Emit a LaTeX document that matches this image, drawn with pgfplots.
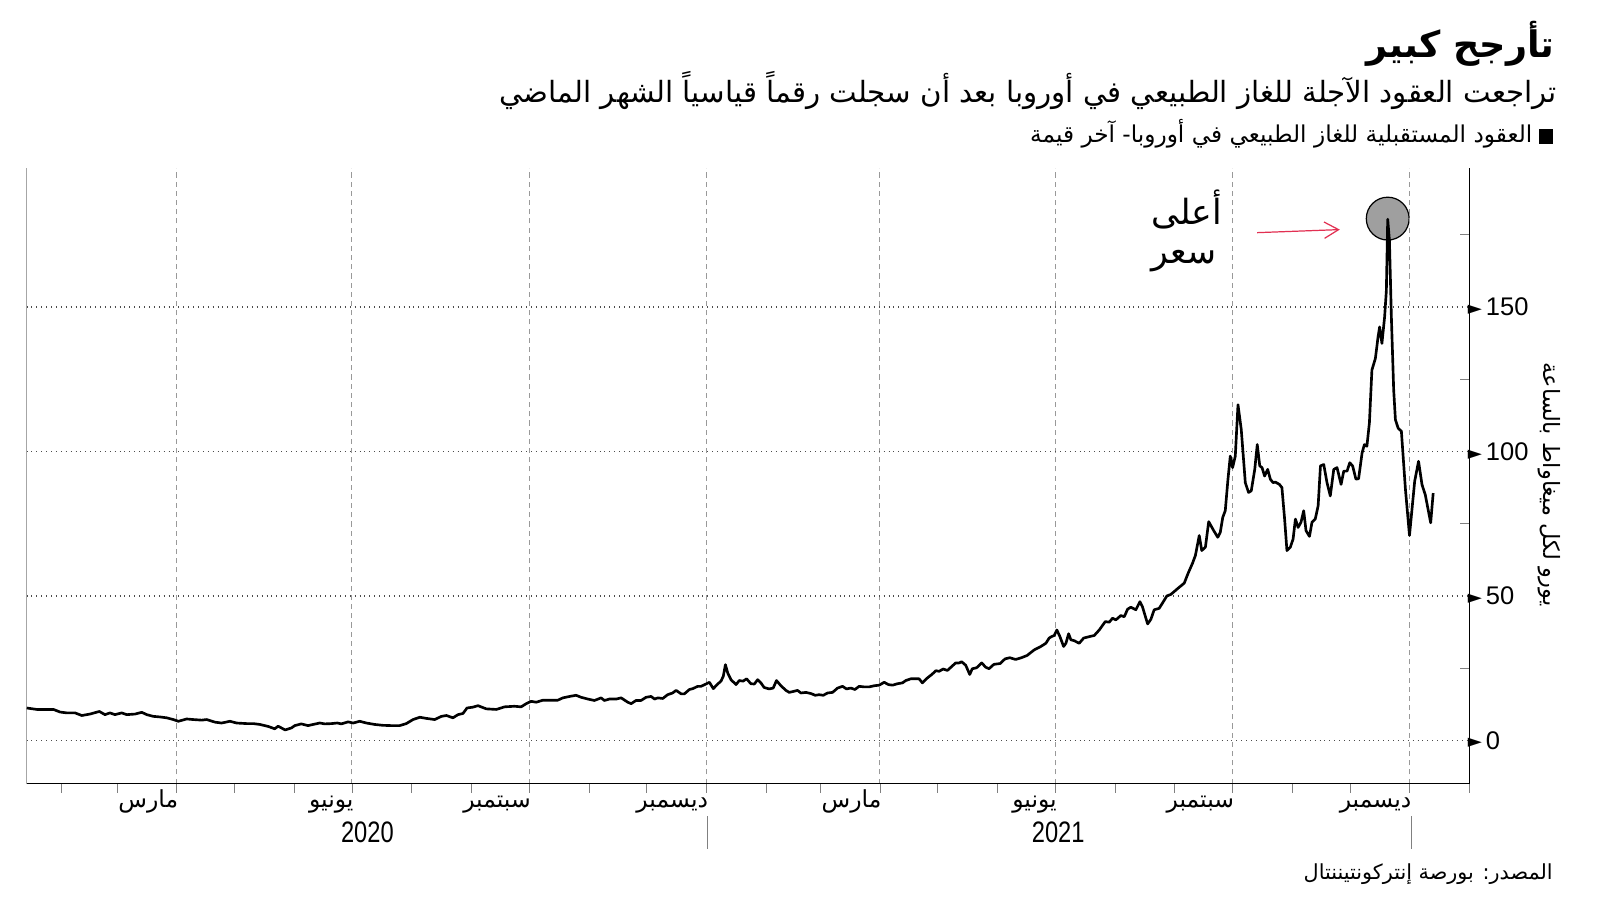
\documentclass[border=0pt]{standalone}
\usepackage{fontspec}
\setmainfont{Liberation Sans}
\newfontfamily\arabicfont[Script=Arabic]{DejaVu Sans}
\newfontfamily\symfont{DejaVu Sans}
\newfontfamily\yearfont[FakeStretch=0.8]{Liberation Sans}
\usepackage{pgfplots}
\pgfplotsset{compat=1.18}
\usetikzlibrary{arrows.meta}
\TeXXeTstate=1
\newcommand\ar[1]{{\arabicfont\beginR #1\endR}}
\definecolor{annred}{RGB}{226,48,82}
\pgfplotsset{frame/.style={
    at={(13pt,-384pt)}, anchor=south west,
    scale only axis, width=707pt, height=301.5pt,
    xmin=13.2, xmax=762, ymin=-15, ymax=198, clip=false}}

\begin{document}
\begin{tikzpicture}
\fill[white] (0,0) rectangle (784pt,-441.5pt);

% peak marker, drawn first so the price line runs over it
\begin{axis}[frame, hide axis]
\addplot[only marks, mark=*, mark size=10.5pt, mark options={fill=gray!75, draw=black, line width=0.6pt}] coordinates {(719.6,180.6)};
\end{axis}

\begin{axis}[
    frame,
    axis x line*=bottom, axis y line*=right,
    axis line style={line width=0.8pt},
    tick align=outside,
    major tick length=4.5pt, minor tick length=4.5pt,
    xtick={91,182,274,366,456,547,639,731},
    minor xtick={31,60,121,152,213,244,305,335,397,425,486,517,578,609,670,700,762},
    xticklabels={\ar{مارس},\ar{يونيو},\ar{سبتمبر},\ar{ديسمبر},\ar{مارس},\ar{يونيو},\ar{سبتمبر},\ar{ديسمبر}},
    xticklabel style={anchor=base east, inner sep=0pt, xshift=1pt, yshift=-7pt, font=\fontsize{11.5}{12}\selectfont},
    ytick={0,50,100,150},
    minor ytick={25,75,125,175},
    major y tick style={draw=none},
    minor y tick style={xshift=-4.5pt, line width=0.5pt},
    /pgf/number format/assume math mode=true,
    yticklabel={\raisebox{0.6pt}{\symfont\fontsize{9}{9}\selectfont ►}\hspace{2pt}\pgfmathprintnumber{\tick}},
    yticklabel style={anchor=west, inner sep=0pt, xshift=-5.5pt, font=\fontsize{12.5}{13}\selectfont},
    xmajorgrids, ymajorgrids,
    major x grid style={gray!80, dashed, line width=0.4pt, dash pattern=on 2.5pt off 2pt},
    major y grid style={black!70, dotted, line width=0.6pt},
]
\draw[gray!70, line width=0.5pt] (rel axis cs:0,0) -- (rel axis cs:0,1);

\addplot[black, line width=1.3pt, line join=round] table {
13.3 11.2
18.5 10.7
27.2 10.7
30.6 9.8
34.1 9.5
38.4 9.5
41.9 8.6
46.1 9.1
51.0 10.0
53.9 8.9
56.5 9.5
59.1 8.9
62.6 9.5
65.2 8.9
69.5 9.1
73.0 9.7
75.6 8.9
79.0 8.3
82.5 8.1
85.9 7.8
89.4 7.2
92.0 6.6
96.3 7.4
99.7 7.2
104.1 7.0
106.7 7.2
111.0 6.3
114.4 6.0
118.8 6.6
122.2 6.0
127.4 5.8
130.9 5.8
134.3 5.5
138.7 4.8
142.0 4.0
143.8 4.9
147.4 3.6
150.7 4.3
152.4 5.1
155.8 5.7
159.3 5.1
161.9 5.5
165.4 6.0
168.0 5.7
171.5 5.8
174.4 6.0
176.6 5.7
180.1 6.4
182.7 6.0
186.1 6.6
189.6 6.0
193.9 5.5
198.2 5.2
202.6 5.1
206.8 5.1
210.3 5.8
213.8 7.2
217.3 8.0
220.7 7.6
225.0 7.2
228.5 8.3
231.1 8.6
234.5 7.8
237.1 8.9
239.7 9.3
241.8 11.2
244.9 11.5
247.5 12.0
251.8 10.9
257.0 10.7
261.3 11.6
266.4 11.8
269.9 11.6
272.5 12.7
275.1 13.5
277.7 13.2
281.2 13.9
284.6 13.9
288.9 13.9
291.5 14.7
295.0 15.2
298.4 15.6
301.0 14.9
304.5 14.3
307.9 13.8
311.4 14.7
313.1 13.8
315.7 14.3
319.2 14.3
321.8 14.7
325.2 13.2
327.0 12.7
329.5 13.8
332.1 13.8
334.7 14.9
337.3 15.2
339.1 14.3
340.8 14.7
343.4 14.5
345.9 15.8
348.5 16.4
350.3 17.3
352.9 16.1
354.6 16.1
357.2 17.6
359.0 17.9
361.5 18.7
363.2 18.7
365.8 19.5
367.6 20.1
369.6 17.9
371.9 19.5
373.6 20.5
374.8 22.2
375.9 26.2
377.1 23.3
378.8 21.0
381.4 19.3
383.1 20.7
385.1 20.5
386.9 21.3
389.1 19.6
390.9 19.5
392.6 21.0
394.3 19.9
396.0 18.3
398.6 17.8
400.7 18.1
402.4 20.7
404.7 18.9
407.3 17.3
409.0 16.6
411.6 17.0
413.3 17.3
415.1 16.4
417.7 16.6
420.3 16.2
422.5 15.6
424.5 15.8
426.7 15.6
428.9 16.4
431.5 16.6
434.1 18.1
436.7 18.7
438.7 17.8
441.0 18.1
443.1 17.6
445.3 18.7
447.9 18.5
450.5 18.5
453.1 18.9
455.7 19.1
458.3 20.1
460.5 19.3
462.6 19.1
465.2 19.6
467.8 19.9
469.5 20.7
472.1 21.3
474.7 21.3
476.4 21.3
478.1 19.9
480.7 21.6
483.0 22.8
485.1 24.1
486.8 23.9
488.9 24.7
491.1 24.2
493.4 25.6
495.4 26.8
497.2 26.8
498.5 27.2
500.6 26.0
502.7 22.8
504.0 24.8
506.2 25.1
508.9 26.8
511.0 25.3
512.7 24.8
515.2 26.3
518.5 26.6
521.0 28.2
523.5 28.6
526.5 28.0
529.5 28.6
532.5 29.4
536.1 31.3
539.6 32.5
542.2 33.6
543.9 35.4
545.1 35.9
546.5 36.3
547.9 38.2
549.5 35.9
551.4 32.5
552.6 33.6
554.0 36.9
555.2 34.8
556.9 34.5
559.5 33.6
561.8 35.4
564.7 35.9
567.3 36.3
569.9 38.2
573.0 41.1
575.1 40.9
576.8 42.3
578.5 41.7
581.1 43.2
582.9 42.8
584.6 45.4
586.3 46.1
588.9 45.2
591.0 48.0
592.3 46.3
595.0 40.3
596.7 41.9
598.4 45.2
601.0 45.7
602.7 47.5
605.0 50.0
607.0 50.5
608.8 51.5
611.4 53.0
614.0 54.4
616.0 57.8
618.3 61.3
619.8 64.0
621.8 70.9
623.1 65.7
625.0 66.9
626.7 75.7
629.3 72.6
631.4 70.3
632.7 72.0
634.0 77.2
635.3 79.5
636.7 90.4
637.9 98.4
639.1 94.4
640.5 98.4
641.9 116.2
643.6 107.6
645.7 89.2
647.4 85.8
648.8 86.4
650.6 93.8
651.9 102.4
653.2 95.0
654.4 94.4
655.7 91.5
657.3 93.8
658.7 90.4
660.1 89.2
661.3 89.4
663.4 88.6
664.7 87.5
666.1 76.6
667.3 65.7
669.1 66.9
670.5 69.7
671.7 76.6
673.1 73.7
674.6 75.5
676.0 79.5
677.2 72.6
679.0 70.6
680.3 75.5
682.0 76.6
683.5 81.2
684.7 95.0
686.4 95.5
688.1 89.2
689.8 84.6
691.6 93.8
693.3 94.4
695.4 88.6
696.8 93.2
698.5 93.2
699.9 96.1
701.4 95.0
703.1 90.4
704.5 90.6
706.3 99.5
707.5 102.4
708.8 101.8
710.1 109.9
711.4 128.2
713.2 132.2
714.6 139.7
715.4 143.1
716.6 137.4
718.0 146.6
718.9 155.7
719.6 180.4
720.5 173.0
721.5 146.6
722.7 121.3
723.6 111.0
725.0 108.1
726.7 107.0
728.8 86.9
730.9 70.9
733.6 89.7
735.6 96.6
737.4 88.5
739.1 85.0
741.9 75.3
743.2 85.6
};
\end{axis}

\begin{scope}[x=0.5pt,y=-0.5pt]
% titles
\node[anchor=base east, inner sep=0pt] at (1524,56)
  {\resizebox{92pt}{!}{\bfseries\ar{تأرجح كبير}}};
\node[anchor=base east, inner sep=0pt] at (1526,100)
  {\resizebox{518pt}{!}{\ar{تراجعت العقود الآجلة للغاز الطبيعي في أوروبا بعد أن سجلت رقماً قياسياً الشهر الماضي}}};
\fill[black] (1508,126) rectangle (1522,141);
\node[anchor=base east, inner sep=0pt] at (1502,140)
  {\resizebox{246pt}{!}{\ar{العقود المستقبلية للغاز الطبيعي في أوروبا- آخر قيمة}}};
% axis label
\node[rotate=-90, inner sep=0pt, font=\fontsize{11}{12}\selectfont] at (1518,475)
  {\ar{يورو لكل ميغاواط بالساعة}};
% years
\node[font=\yearfont\fontsize{14.5}{15}\selectfont, inner sep=0pt] at (360,816) {2020};
\node[font=\yearfont\fontsize{14.5}{15}\selectfont, inner sep=0pt] at (1037,816) {2021};
\draw[gray, line width=0.5pt] (693,800) -- (693,832);
\draw[gray, line width=0.5pt] (1383,800) -- (1383,832);
% source
\node[anchor=base east, inner sep=0pt] at (1522,862)
  {\resizebox{122pt}{!}{\ar{المصدر: بورصة إنتركونتيننتال}}};
% annotation
\node[anchor=base, inner sep=0pt, font=\fontsize{17}{18}\selectfont] at (1163,220) {\ar{أعلى}};
\node[anchor=base, inner sep=0pt, font=\fontsize{17}{18}\selectfont] at (1160,258) {\ar{سعر}};
\draw[annred, line width=0.6pt, -{Straight Barb[length=7pt,width=8pt]}] (1232,228) -- (1313,225);
\end{scope}
\end{tikzpicture}
\end{document}
